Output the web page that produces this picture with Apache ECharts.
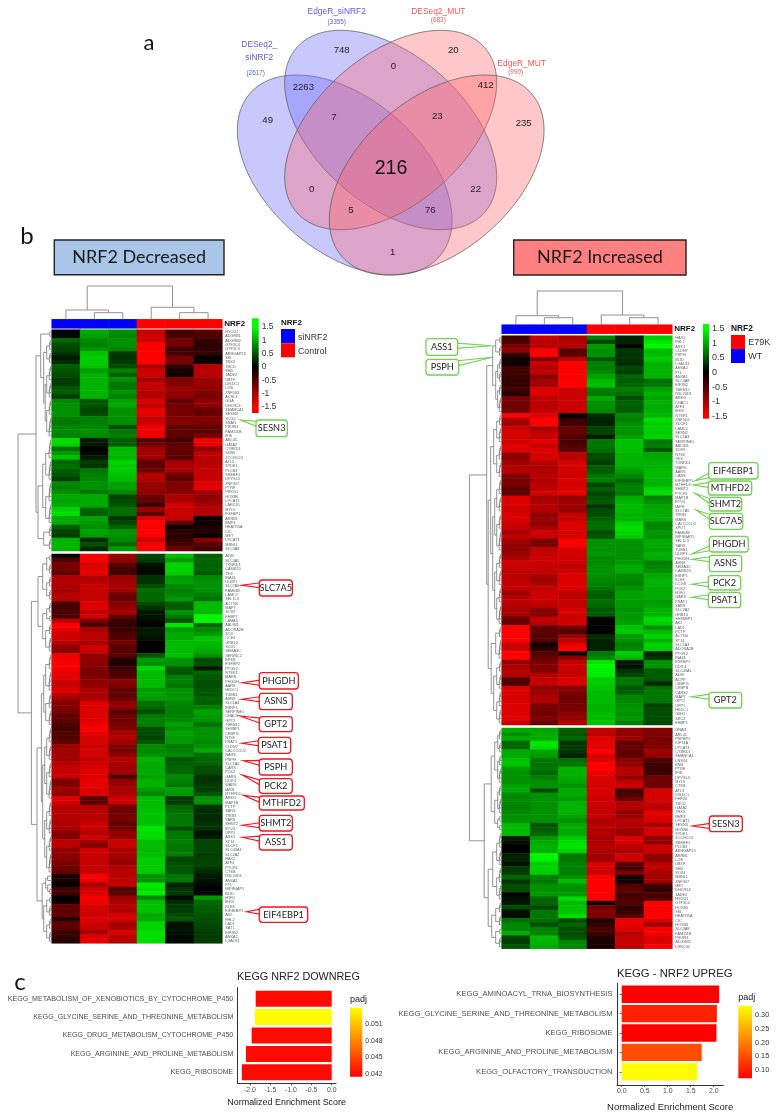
<!DOCTYPE html>
<html><head><meta charset="utf-8">
<script src="https://cdn.jsdelivr.net/npm/echarts@6/dist/echarts.min.js"></script>
<style>html,body{margin:0;padding:0;background:#fff}#c{width:779px;height:1118px}</style>
</head><body><div id="c"></div>
<script>
// ---------- Heatmap gene labels ----------
const leftTopGenes=['HYOU1','ADGRB1','ADGRB2','GTF3C4','GTF3C3','ARHGAP23','SKI','TBX3','TBCD','SHD','JADE2','UBTF','DISDC1','L2IS','ZNF503','ACSL3','GGA','DHCR24','SMARCA1','SESN3','SCG2','SNAI1','PIK3R3','FAM111B','IFI8','ARL4C','GATA2','CYBRD1','SUB3','ZCCHC24','ATL3','SYDE1','PLCB3','SREBF1','DPYSL3','ZNF307','PTRF','PRKG1','HOXB6','LPCAT1','LARC45','MYL9','FGFBP1','ARRB1','BMP4','HEATR5A','CIC','MET','LPCAT3','MBNL1','SLC3A8'];
const leftBottomGenes=['ADM','SLC4A5','TXNRD1','CAMK2D','TES','INADL','ULBP1','SLC7A5','FAM64B','LAMC2','SEL1L3','ACTN4','MAP7','SOX9','EHBP1','LAMA3','ABLIM1','ADORA2B','SCD','CCH1','GRB10','SCD5','SEMA3C','SERINC2','EPS8','FGFBP2','PTGS2','NTSR1','MARS','PHGDH','AARS','HKDC1','TUBB1','ASNS','SLC1A4','ESRP1','SERPINE1','CHAC1','GPT2','TBEN15','SH3BP1','CEBPG','NT5E','PSAT1','CLDN7','CALCOCO2','NARS','PSPH','SLC1A5','CARS','PCK2','GARS','DDIT4','WARS','IARS','MTHFD2','AREG','MAP1B','PCTP','SARS','TRIB3','YARS','SHMT2','ETV4','UPP1','ASS1','ST14','SDCF1','SLC43A1','SLC2A2','HAX1','ATF4','PYCR1','CTSB','RSL24D1','ANXA1','FTL','NIPSNAP1','BLID','H1F0','IER3','KLK8','EIF4EBP1','AK2','FHL2','LAD1','SAT1','EIF2B2','ANXA2','LGALS1'];
const rightTopGenes=['HAX1','FHL2','ASS1','CLDN7','PSPH','BLID','LGALS1','ANXA2','FTL','ANXA1','SLC4A8','EIF2B2','TBEN15','RSL24D1','AREG','CHAC1','ATF4','IER3','NTSR1','ZNF503','SDCF1','LAMC2','SESN2','SLC1A3','SERPINE1','ABLIM1','SOX9','NT5E','TES','TXNRD1','WARS','AARS','CARS','EIF4EBP1','MTHFD2','SHMT2','PYCR1','MAP1B','ETV4','IARS','SLC7A5','TRIB3','MARS','CALCOCO2','XPOT','FAM64B','NIPSNAP1','SEL1L3','SARS','TUBB1','ULBP1','PHGDH','ASNS','SEMA3C','CAMK2D','ESRP1','KLK8','CCGS','PCK2','H1F0','GARS','PSAT1','YARS','SLC2A2','GRB10','SH3KBP1','AK2','LAD1','PCTP','ACTN4','ST14','SLC1A4','ADORA2B','PTGS2','INADL','FGFBP1','DDIT4','SLC43A1','ADM','ACPP','CEBPG','CEBPB','CARS2','MAP7','GPT2','UPP1','HKDC1','G6H1','SRC2','EHBP1'];
const rightBottomGenes=['GNAI1','ARL4C','PSPBP1','KIF13A','LPCAT3','CYBRD1','SMARCA1','LNSG1','BNN','PTRF','IFI8','DPYSL3','MYL9','CTSB','ATL3','DISDC1','PHF20','TBCD','GATA2','TBX3','BMP4','LPCAT1','SESN3','HOXB6','SYDE1','ZCCHC24','SREBF1','PLCB3','ARHGAP23','ARRB1','L2IS','UBTF','SHD','SOX4','MBNL1','ZNF307','MET','DHCR24','JADE2','HYOU1','GTF3C4','HOXB5','SKI','HEATR5A','CIC','HOXB3','SLC3A8','FAM111B','PIK3R3','ADGRB2','LRRC45'];

// ---------- Heatmap values (z-scores) ----------
const leftTopValues=[[-0.05,1,.85,-1.15,-.35,-.5],[.05,.95,.8,-1.2,-.45,-.45],[.6,.8,.85,-1.2,-.65,-.3],[.45,.75,.85,-1.5,-.7,-.25],[.4,.85,.8,-1.5,-.35,-.3],[.3,1.15,.35,-1.5,-.4,-.3],[.15,1.2,.3,-1.5,-.7,0],[.25,1.2,.35,-1.5,-.7,-.1],[.55,1.15,.45,-1,-.3,-1.05],[.5,.9,.75,-1.2,-.15,-1.1],[.45,1.05,.55,-1.2,-.1,-1.1],[.35,1.05,.85,-.95,-.75,-.9],[.35,1.05,.7,-1.15,-.75,-.9],[.5,1.05,.7,-1.15,-.9,-.85],[.55,1.05,.85,-1.05,-.85,-.75],[.35,1.05,.75,-1.05,-.85,-.7],[.8,.5,.95,-1.3,-.55,-.85],[.85,.5,1,-1.1,-.65,-.85],[.85,.4,.85,-1.35,-.7,-.6],[.85,.45,.85,-1.35,-.7,-.6],[.75,.75,.85,-1.15,-.75,-.75],[.7,.75,.85,-1.2,-.8,-.75],[.8,.8,.45,-1.4,-.55,-.55],[.8,.85,.7,-1.4,-.55,-.55],[.75,.8,.75,-1.4,-.55,-.7],[1.3,.15,.55,-.5,-.4,-1.4],[1.25,.15,.55,-.65,-.55,-1.35],[.65,0,1.1,-.95,-.6,-.85],[.9,.05,1.1,-.95,-.55,-1.1],[1.15,.15,1.05,-.95,-.5,-1.1],[.6,.35,1.25,-.55,-.95,-1.05],[.65,.3,1.2,-.55,-1,-1.1],[.55,.7,1.2,-.65,-1,-1.15],[.5,.75,1.15,-1.05,-.65,-1.15],[.35,.8,1.1,-1.05,-.55,-1.15],[.8,.85,.95,-.9,-.75,-1.3],[.75,.85,.95,-.9,-.75,-1.35],[.85,.7,.8,-.85,-.8,-.95],[1,1,.4,-.65,-1,-.85],[.95,1,.45,-.6,-1,-.85],[1,1,.5,-.35,-1.25,-1],[1.25,.6,.65,-.95,-1.15,-1.05],[1.3,.55,.65,-.55,-1.2,-1.05],[1,.95,.3,-1.3,-1.15,0],[1,.9,.4,-1.5,-.65,-.1],[.55,.85,.6,-1.5,-.05,-.15],[.4,.95,.85,-1.5,-.25,-.2],[.35,.9,.85,-1.5,-.25,-.05],[1.05,.25,.8,-1.2,-.3,-.8],[1.05,.45,.6,-1.45,-.4,-.55],[1.05,.25,.9,-1.5,-.6,-.35]];
const leftBottomValues=[[-.05,-1.5,-.9,.4,1.1,.55],[-.45,-1.45,-.85,.35,.9,.6],[-.7,-1.25,-.55,.1,1.25,.55],[-.7,-1.35,-.4,.05,1.25,.6],[-.55,-1.35,-.4,.05,1.2,.5],[-1,-1.05,-.9,.3,.9,.8],[-1.05,-1.05,-.95,.3,.95,.85],[-1,-1.2,-.95,.45,.8,.85],[-.95,-1.15,-.95,.65,.75,.85],[-1.05,-1.15,-.65,.6,.8,.75],[-1.05,-1.15,-.6,.6,.9,.65],[-.45,-1.3,-.8,.45,.55,1.1],[-.4,-1.3,-.85,.3,.55,1.1],[-.45,-1.1,-1,.15,.85,1.1],[-.45,-1.25,-.6,.1,.7,1.45],[-1.1,-.7,-.35,.05,.45,1.45],[-1.5,-.45,-.3,0,1.35,.6],[-1.35,-1,-.35,.15,.9,.8],[-1.2,-1.1,-.45,.15,1,.9],[-1.2,-1.1,-.5,.1,1,1.15],[-1.1,-1,-.7,0,1.1,1.1],[-.85,-1.2,-.55,0,1.1,1.05],[-.8,-1.2,-.5,0,1.1,1],[-1.4,-.85,-.55,.5,1.15,.85],[-1.45,-.85,-.2,.9,.85,.45],[-1.45,-.8,-.2,.85,.85,.45],[-1.45,-.75,-.35,1.25,.55,.15],[-1.35,-.7,-.45,1.1,.5,.6],[-1.35,-.75,-.5,1.1,.75,.5],[-1.2,-.85,-.8,1.1,.75,.45],[-1.15,-.85,-.75,1.1,.7,.45],[-1.3,-1,-.55,.9,.85,.5],[-1.1,-1,-.55,.95,.85,.5],[-.95,-1,-.65,.9,.9,.6],[-.75,-1.3,-.85,.65,.8,.55],[-.75,-1.3,-.85,.6,.75,.75],[-.7,-1.3,-.5,.45,.75,.95],[-.55,-1.3,-.65,.7,.75,.9],[-.55,-1.3,-.65,.75,.8,.85],[-.45,-1.4,-.7,.75,.95,.65],[-.4,-1.45,-.8,.45,.85,.85],[-.45,-1.35,-1,.45,.95,.85],[-.5,-1.25,-1.05,.4,.9,.85],[-.55,-1.25,-.95,.5,.9,.8],[-.9,-1.2,-.75,.8,.7,.85],[-.95,-1.25,-.7,.8,.75,1],[-.95,-1.25,-.85,.85,.8,.65],[-.95,-1.15,-1.05,1.05,.5,.6],[-1.05,-1.2,-1,1,.55,.6],[-1.15,-1.3,-.95,1,.6,.45],[-1.15,-1.3,-.95,1,.6,.45],[-1.15,-1.3,-.45,.95,.8,.3],[-.75,-1.35,-.85,1.05,.75,.3],[-.75,-1.35,-.9,1.05,.7,.35],[-.95,-1.3,-1,.9,.95,.35],[-.85,-1.3,-1,.8,.9,.5],[-1.3,-.55,-1.2,1.1,.35,.85],[-1.25,-.55,-1.2,1.1,.35,.85],[-1.05,-1.05,-.7,1.1,.6,.3],[-1.05,-1.05,-.65,1.15,.65,.25],[-1.05,-1.1,-.7,1.15,.7,.25],[-1.05,-1.05,-.7,1.15,.7,.25],[-1,-1.2,-.6,1.15,.7,.3],[-1,-1.2,-.65,1.35,.45,.3],[-.8,-1.05,-.9,1.3,.7,.1],[-.75,-1.25,-.85,1.3,.7,.15],[-1.1,-.95,-1.2,1.1,.75,.4],[-1.1,-.75,-1.2,1.1,.7,.4],[-.85,-1.2,-1,1.1,.7,.4],[-.85,-1.2,-1,1.1,.75,.35],[-.8,-1.15,-.95,1.2,.4,.4],[-.7,-1.15,-.85,1.2,.45,.4],[-.65,-1.15,-1.05,1.2,.5,.35],[-.6,-1.15,-1.1,1.2,.5,.25],[-.15,-1.45,-1.1,.85,.7,.15],[-.15,-1.4,-1.1,.85,.7,.1],[0,-1,-1.15,1.4,.2,.05],[-.4,-1.2,-.5,1.3,.3,0],[-.4,-1.25,-.5,1.4,.35,0],[0,-1.45,-.9,.8,.05,.9],[-.1,-1.4,-1,1.1,.25,.6],[-.55,-1.25,-1.1,1.15,.35,.55],[-.55,-1.25,-1,1.15,.35,.55],[-.6,-1.2,-1.25,1,.45,.5],[-.2,-1.3,-1.25,1,.5,.45],[-.55,-1.2,-.95,1.25,.1,.45],[-.55,-1.15,-1,1.25,.1,.4],[-.35,-.95,-1.25,1.3,.1,.35],[-.3,-1.3,-1.1,1.3,.05,.35],[-.2,-1.35,-1.05,1.3,.05,.35]];
const rightTopValues=[[-.4,-1.15,-1,.75,.2,1.2],[-.45,-1.1,-1.05,.4,.2,1.35],[-.7,-1.05,-1.05,.9,0,1.45],[-.85,-1.5,-.5,.85,.35,1.1],[-.3,-1.5,-.55,.85,.3,1.1],[-.1,-.75,-1.1,.5,.3,1.2],[-.05,-1.2,-1.5,.75,.25,1.05],[-.4,-1.05,-1.5,.75,.45,1.05],[-.35,-1.15,-1.5,.8,.35,1.05],[-.35,-.8,-1.5,.95,.6,1.05],[-.3,-.95,-1.5,1.1,.55,.65],[-.3,-.95,-1.5,1.15,.6,.7],[-.4,-1.3,-1.2,.75,.75,.95],[-.2,-1.3,-1.2,.7,.65,1.05],[-.7,-1.1,-1.2,1,.45,.95],[-.7,-1.1,-1.2,.85,.6,1.05],[-.65,-1.1,-1.2,.85,.55,1],[-.7,-1.15,-1.2,.8,.55,1.05],[-1.5,-1.3,0,.25,.8,1.05],[-1,-1.5,-.35,.2,.75,1.3],[-.95,-1.5,-.4,.2,.85,1.2],[-1.2,-.95,-.6,.4,.9,1.25],[-1.25,-1.15,-.6,.4,.85,1.2],[-1.25,-1.15,-.5,.15,.95,1.25],[-1.2,-1.35,-.4,.7,1.15,.7],[-1.35,-1.15,-.5,.7,1.15,.75],[-1.3,-1.3,-.55,.65,1.1,.5],[-.85,-1.25,-1.1,.45,1.05,1],[-.85,-1.25,-1.1,.45,1.05,1],[-.95,-1.05,-1.25,.35,1.05,1.05],[-1.05,-1,-1.25,.55,1,1.05],[-1.05,-1.05,-1.25,.55,.9,1.1],[-.75,-1.1,-1.2,.7,.8,1.1],[-.7,-1,-1.3,.75,.6,1.05],[-.7,-1.1,-1.2,.4,.75,1.05],[-.55,-1.1,-1.3,.55,.75,1.25],[-.5,-1.25,-1.35,.4,.7,1.3],[-1.3,-.95,-.85,.5,1,.75],[-1.3,-1,-.95,.55,1.05,.85],[-1.25,-1.05,-.9,.3,1.1,.95],[-1.2,-1.05,-.9,.45,1.1,1],[-1.3,-.85,-1.15,.45,1.05,1],[-1.25,-.9,-1.15,.55,1.05,1],[-1.2,-.85,-1.3,.65,1.25,.8],[-1.15,-1,-1.3,.65,1.3,.8],[-.95,-1.2,-1.25,.45,1.25,.9],[-1.15,-1.15,-1.25,.5,1.2,.85],[-.95,-.7,-1.5,.85,.85,1],[-.85,-.7,-1.45,.85,.85,1],[-.85,-1.15,-1.25,.85,.85,.95],[-.9,-1.15,-1.25,.9,.85,1.05],[-1,-1.2,-1.2,.8,.85,1],[-1.2,-1.2,-1.2,.8,.9,.75],[-1.2,-1.15,-1.1,.85,1,.8],[-1.1,-1.15,-1.2,.85,1,.85],[-1.1,-1,-1.3,.85,.8,1],[-1.1,-.95,-1.3,.8,.8,1.05],[-1.15,-1,-1.3,.75,.75,1.05],[-1.15,-1.15,-1.3,.7,.85,1],[-.9,-1.2,-1.1,.55,.95,1],[-1.05,-1.2,-1.1,.55,.95,1],[-1.1,-1.15,-1.15,.65,.9,.9],[-1.05,-1.1,-1.15,.6,.9,.95],[-1,-.8,-1.25,.5,.85,1.05],[-1,-.75,-1.25,.55,.9,1.05],[-.6,-1.15,-1.2,.05,.9,1.3],[-.6,-1.1,-1.25,0,.95,1.25],[-1.5,-.55,-.7,0,1.15,.85],[-1.5,-.55,-.45,0,1.2,1.1],[-1.5,-.5,-.9,.25,.9,1.25],[-1.45,-.5,-1.1,.2,.85,1.05],[-1.2,-.1,-1.35,.2,.75,1.25],[-1.2,-.25,-1.5,.2,.8,1.2],[-1.5,-.5,-.1,.7,1.2,.2],[-1.5,-.6,-.85,.8,1.1,.3],[-.85,-.7,-1.15,1.35,.15,.85],[-1,-.75,-1.2,1.45,.1,.85],[-1.05,-.75,-1.15,1.4,.3,.55],[-1.05,-1.05,-1.15,1.4,.4,.55],[-.5,-1.15,-1.3,1.2,.7,.5],[-.45,-1.15,-1.3,1.2,.7,.25],[-1.3,-.85,-.75,1.15,.5,.65],[-1.3,-.9,-.75,1.1,.55,.7],[-1.25,-1,-.65,1.1,.8,.7],[-1.25,-1.05,-.65,1.1,.8,.7],[-1.3,-.7,-.7,1.05,.85,.4],[-1.3,-.7,-.7,1.05,.9,.45],[-1.3,-.65,-.85,1.1,.85,.45],[-1.35,-.75,-.85,1.1,.9,.45],[-1.2,-.6,-1.05,1.15,.75,.45]];
const rightBottomValues=[[1,.95,.55,-1.15,-.85,-.75],[.85,1,.5,-1.1,-.85,-.75],[1,1,.6,-1.3,-.95,-.7],[.6,1.35,.3,-1.35,-.55,-.75],[.6,1.3,.35,-1.3,-.6,-.75],[1,.95,.3,-1.5,-.55,-.95],[1,.9,.2,-1.25,-.55,-.85],[1.15,.7,.65,-1.3,-.85,-.45],[1.15,.65,.7,-1.5,-.85,-.35],[.9,.7,1.05,-1.5,-1.05,-.35],[.85,.6,1.05,-1.35,-1.1,-.35],[.85,.75,1,-1.3,-.85,-.65],[.85,.85,.95,-1.25,-1.15,-.65],[.95,.85,.85,-1.25,-1.2,-.65],[1,.45,1,-1.25,-.4,-1.25],[.8,.85,1,-1.25,-.45,-1.25],[.8,.85,.9,-1.2,-.65,-1.25],[.8,.85,1.05,-1.2,-1.05,-1.15],[.75,.85,1.05,-1.15,-1.05,-1.1],[.8,.85,1.05,-1.15,-.85,-1.3],[.85,.85,.95,-1.15,-.9,-1.3],[.85,.85,.85,-1,-1.1,-1.25],[1.1,.5,1,-1.1,-1.05,-.95],[1.1,.55,1,-1.05,-.95,-1.25],[1.1,.6,1,-1.05,-.9,-1.25],[.15,.9,1.2,-1,-1.3,-.85],[.1,1,1.3,-1,-1.25,-.85],[0,1.05,1.35,-1.1,-1.1,-1.2],[0,1.05,1.25,-1,-1,-1.2],[.2,1.45,.7,-.95,-1.2,-.85],[.2,1.4,.7,-.95,-1.2,-.85],[.1,1.2,.75,-1.25,-.5,-1.1],[.35,1.25,.75,-1.25,-.4,-1.1],[.35,1.2,.75,-1.2,-.75,-1],[.6,.75,.85,-1.5,-.1,-.95],[.3,.7,1.1,-1.5,-.1,-.95],[.45,.85,.85,-1.5,-.5,-.35],[.45,.85,.85,-1.5,-.55,-.3],[0,.9,.9,-1.5,-.4,-.45],[.1,.6,1.3,-1.5,-.45,-.45],[.15,.6,1.1,-.1,-.5,-1.5],[.45,.4,1.15,-.7,-.25,-1.5],[.1,.7,1.15,-.75,-.35,-1.5],[.05,.7,1.3,-.75,-.5,-1.5],[.65,.65,.45,-.2,-1.4,-1.3],[.8,.45,.6,-.3,-1.35,-.9],[.8,.75,.45,-.45,-1.3,-1.45],[1,.75,.45,-.35,-1.05,-1.45],[.4,1.1,.5,-.2,-1.15,-1.3],[.35,1.05,.8,-.15,-1.15,-1.3],[.5,1,.8,-.15,-1.1,-1.45]];

// ---------- Dendrograms: [height, childA, childB]; a number child = that many neighbouring rows ----------
const leftRowTree=[33.7,[15.7,[11,2,[8,[5,3,3],[6.5,[5,4,4],[5,4,5]]]],[13.7,[9,[6,5,5],[6,5,5]],[8,3,3]]],[20.3,[13.7,[9,[5,2,3],[5,3,3]],[9,[5,3,2],[6,3,4]]],[14.7,[10.3,[8,[6,4,5],[6,4,4]],[9,[7,[5,4,4],[5,4,5]],[7,[5,4,4],[5,4,5]]]],[9.5,[6,[4,1,1],[4,1,2]],[8,[5,2,3],[5,3,3]]]]]];
const rightRowTree=[32.3,[15,[9,[6,2,3],[6,[4,3,3],[4,3,4]]],[13.5,[11,[8,[5,3,4],[5,4,4]],[9,[7,[5,4,4],[5,4,5]],[7,[5,4,4],[5,4,5]]]],[10.5,[6,3,5],[8,[5,3,4],[5,4,4]]]]],[17.5,[10.5,[7,[4,3,3],[4,3,4]],[7,[4,3,4],[4,2,2]]],[13.5,[9,[5,4,4],[5,4,4]],[10,[6,3,3],[6,2,3]]]]];
const leftColMerges=[[1.5,0,2.5,0,20],[.5,0,2,20,28],[4.5,0,5.5,0,20],[3.5,0,5,20,36],[1.25,28,4.25,36,100]];
const rightColMerges=[[1.5,0,2.5,0,21],[.5,0,2,21,27],[4.5,0,5.5,0,21],[3.5,0,5,21,29],[1.25,27,4.25,29,101]];

// ---------- Colour bars and KEGG bars ----------
const zTicks=[-1.5,-1,-.5,0,.5,1,1.5];
const downTerms=['KEGG_METABOLISM_OF_XENOBIOTICS_BY_CYTOCHROME_P450','KEGG_GLYCINE_SERINE_AND_THREONINE_METABOLISM','KEGG_DRUG_METABOLISM_CYTOCHROME_P450','KEGG_ARGININE_AND_PROLINE_METABOLISM','KEGG_RIBOSOME'];
const downNES=[-1.86,-1.88,-1.96,-2.1,-2.2];
const downPadj=[.042,.0538,.042,.042,.042];
const downTicks=[-2,-1.5,-1,-.5,0];
const downPadjTicks=[.042,.045,.048,.051];
const upTerms=['KEGG_AMINOACYL_TRNA_BIOSYNTHESIS','KEGG_GLYCINE_SERINE_AND_THREONINE_METABOLISM','KEGG_RIBOSOME','KEGG_ARGININE_AND_PROLINE_METABOLISM','KEGG_OLFACTORY_TRANSDUCTION'];
const upNES=[2.12,2.07,2.06,1.74,1.64];
const upPadj=[.07,.105,.07,.15,.332];
const upTicks=[0,.5,1,1.5,2];
const upPadjTicks=[.1,.15,.2,.25,.3];

// ---------- Venn ----------
const BLUE_T='#5a5adf',RED_T='#f25555';
const vennCounts=[['748',341.7,50.7],['0',393.3,66.7],['20',453.3,50],['2263',303.3,87],['412',485.7,85.7],['49',267.7,120.7],['7',334,117.3],['23',437.3,116.7],['235',523.7,123.3],['0',311.7,189],['22',475.7,189],['5',351,210.7],['76',430.3,210.7],['1',392.7,252.3]];
const vennSets=[['EdgeR_siNRF2',336.7,12,8.4,BLUE_T],['(3355)',336.7,22,6.4,BLUE_T],['DESeq2_',259.3,45,8.4,BLUE_T],['siNRF2',259.3,57.7,8.4,BLUE_T],['(2617)',255.7,73.3,6.4,BLUE_T],['DESeq2_MUT',438.3,12,8.4,RED_T],['(683)',438.3,20.7,6.4,RED_T],['EdgeR_MUT',521.7,63.3,8.4,RED_T],['(990)',515.7,72.7,6.4,RED_T]];
// ---------- Callouts: text, box x, y, w, h, tip x, tip y ----------
const leftRedCalls=[['SLC7A5',259.3,580,33,16,241.7,585.3],['PHGDH',259.3,672.7,39,16.3,242.3,682.7],['ASNS',259.3,693.3,33,16.4,241.7,699.3],['GPT2',259.3,716.7,33,15,240,716],['PSAT1',258.3,737.3,32.4,16,241.7,743.3],['PSPH',259.3,759,33,16,243.3,760.7],['PCK2',259.3,778.7,33,14.6,242.3,775],['MTHFD2',259.3,796,45,14,243.3,795.3],['SHMT2',259.3,815.3,33,15.7,242.3,825.3],['ASS1',259.3,834.7,33,15.3,242.3,837.3],['EIF4EBP1',259.3,907,48.4,15.3,246.7,911.7]];
const leftGreenCalls=[['SESN3',256,420,31.3,16.7,240.7,420]];
const rightGreenCalls=[['ASS1',426,338.7,31.7,16.6,491.7,345.7],['PSPH',426,359.3,32.7,15.7,492.3,357.3],['EIF4EBP1',708.7,462.7,49.3,16.3,695,480.7],['MTHFD2',708.3,481,43.4,14,693.3,485],['SHMT2',709.3,497.3,32.4,13.7,695,493.3],['SLC7A5',709.3,513.3,33.4,16,696,510],['PHGDH',709.3,536.3,39,15.7,691.7,554],['ASNS',709.3,555.3,32.4,16.4,691.7,559.3],['PCK2',708.3,575.7,32.4,14.3,691.7,584.3],['PSAT1',708.3,592.3,32.4,15.4,691.7,597.3],['GPT2',709,692.3,32.7,15.7,691.7,696.7]];
const rightRedCalls=[['SESN3',709.3,816,33,15.7,692.3,826]];

// ---------- Build ----------
const RED='#f0141c', GREEN='#6fd24f', TXT='#222';
const SANS='"Liberation Sans",Arial,sans-serif';
const chart=echarts.init(document.getElementById('c'),null,{renderer:'canvas',width:779,height:1118});
const grid=[],xAxis=[],yAxis=[],series=[],visualMap=[];
function addGrid(l,t,r,b,extra){grid.push(Object.assign({left:l,top:t,width:r-l,height:b-t,containLabel:false},extra||{}));return grid.length-1;}
const noAxis={axisLine:{show:false},axisTick:{show:false},axisLabel:{show:false},splitLine:{show:false}};

function heat(l,r,t,b,genes,vals){
  const g=addGrid(l,t,r,b);
  const cols=['0','1','2','3','4','5'];
  xAxis.push(Object.assign({gridIndex:g,type:'category',data:cols},noAxis));
  yAxis.push({gridIndex:g,type:'category',data:genes,inverse:true,position:'right',axisLine:{show:false},axisTick:{show:false},splitLine:{show:false},
    axisLabel:{show:true,interval:0,fontSize:3.8,color:'#5a6068',margin:3,fontFamily:SANS}});
  const data=[];
  vals.forEach((row,y)=>row.forEach((v,x)=>data.push([x,y,v])));
  series.push({type:'heatmap',xAxisIndex:xAxis.length-1,yAxisIndex:yAxis.length-1,data,progressive:0,animation:false,itemStyle:{borderWidth:0}});
}
heat(51.7,222.3,329.7,551,leftTopGenes,leftTopValues);
heat(51.7,222.3,554,943.3,leftBottomGenes,leftBottomValues);
heat(501.7,672.3,335.7,725,rightTopGenes,rightTopValues);
heat(501.7,672.3,728,948.7,rightBottomGenes,rightBottomValues);
visualMap.push({type:'continuous',show:false,seriesIndex:[0,1,2,3],dimension:2,min:-1.5,max:1.5,inRange:{color:['#ff0000','#000000','#00ff00']}});

function annot(l,r,t,b,firstColor,secondColor){
  const g=addGrid(l,t,r,b);
  xAxis.push(Object.assign({gridIndex:g,type:'category',data:['0','1','2','3','4','5']},noAxis));
  yAxis.push({gridIndex:g,type:'category',data:['NRF2'],position:'right',axisLine:{show:false},axisTick:{show:false},axisLabel:{interval:0,fontSize:8,fontWeight:'bold',color:'#111',margin:2,fontFamily:SANS}});
  const data=[0,1,2,3,4,5].map(x=>({value:[x,0,1],itemStyle:{color:x<3?firstColor:secondColor}}));
  series.push({type:'heatmap',xAxisIndex:xAxis.length-1,yAxisIndex:yAxis.length-1,data,animation:false});
}
annot(51.7,222.3,319.3,328.3,'#0000ff','#ff0000');
annot(501.7,672.3,324.7,333.7,'#0000ff','#ff0000');

function segSeries(ax,segs){
  series.push({type:'custom',xAxisIndex:ax,yAxisIndex:ax,data:segs,encode:{x:[0,2],y:[1,3]},animation:false,silent:true,clip:false,
    renderItem:(p,api)=>{const a=api.coord([api.value(0),api.value(1)]),b=api.coord([api.value(2),api.value(3)]);
      return {type:'line',shape:{x1:a[0],y1:a[1],x2:b[0],y2:b[1]},style:{stroke:'#808080',lineWidth:.85,fill:null}};}});
}
function colDendro(l,r,t,b,merges){
  const g=addGrid(l,t,r,b);
  xAxis.push(Object.assign({gridIndex:g,type:'value',min:0,max:6},noAxis));
  const top=merges[merges.length-1][4];
  yAxis.push(Object.assign({gridIndex:g,type:'value',min:0,max:top},noAxis));
  const segs=[];
  merges.forEach(m=>{segs.push([m[0],m[1],m[0],m[4]],[m[2],m[3],m[2],m[4]],[m[0],m[4],m[2],m[4]]);});
  segSeries(xAxis.length-1,segs);
}
colDendro(51.7,222.3,286,319.3,leftColMerges);
colDendro(501.7,672.3,291,324.7,rightColMerges);

function rowDendro(l,r,t,b,tree,topN,total){
  const g=addGrid(l,t,r,b);
  xAxis.push(Object.assign({gridIndex:g,type:'value',min:0,max:r-l,inverse:true},noAxis));
  yAxis.push(Object.assign({gridIndex:g,type:'value',min:0,max:total,inverse:true},noAxis));
  const segs=[]; let row=0;
  const rowY=i=>i+.5+(i>=topN?total-Math.floor(total):0);
  function walk(n){
    if(typeof n==='number'){
      let y=rowY(row),h=0; row++;
      for(let i=1;i<n;i++){
        const ry=rowY(row); row++;
        const ch=.8+2.2*i/n;
        segs.push([h,y,ch,y],[0,ry,ch,ry],[ch,y,ch,ry]);
        y=(y+ry)/2; h=ch;
      }
      return {y,h};
    }
    const a=walk(n[1]),b=walk(n[2]);
    segs.push([a.h,a.y,n[0],a.y],[b.h,b.y,n[0],b.y],[n[0],a.y,n[0],b.y]);
    return {y:(a.y+b.y)/2,h:n[0]};
  }
  walk(tree);
  segSeries(xAxis.length-1,segs);
}
rowDendro(18,51.7,329.7,943.3,leftRowTree,51,141.69);
rowDendro(469.4,501.7,335.7,948.7,rightRowTree,90,141.69);

function colorBar(l,r,t,b,min,max,stops,ticks,fmt,fs,margin,labelColor){
  const g=addGrid(l,t,r,b,{show:true,borderWidth:0,backgroundColor:new echarts.graphic.LinearGradient(0,0,0,1,stops)});
  xAxis.push(Object.assign({gridIndex:g,type:'value',min:0,max:1},noAxis));
  yAxis.push({gridIndex:g,type:'value',position:'right',min,max,axisLine:{show:false},axisTick:{show:false},splitLine:{show:false},
    axisLabel:{show:true,customValues:ticks,formatter:fmt,fontSize:fs,color:labelColor,margin,fontFamily:SANS}});
  return g;
}
function zStops(min,max){const f=v=>(max-v)/(max-min);return [{offset:0,color:'#00ff00'},{offset:f(1.5),color:'#00ff00'},{offset:f(0),color:'#000'},{offset:f(-1.5),color:'#ff0000'},{offset:1,color:'#ff0000'}];}
colorBar(252,258.7,318.3,413,-1.72,1.82,zStops(-1.72,1.82),zTicks,v=>String(v),8.5,3,'#333');
colorBar(703,709,324,418.7,-1.57,1.65,zStops(-1.57,1.65),zTicks,v=>String(v),9,3,'#333');
const padjStops=[{offset:0,color:'#ffff00'},{offset:1,color:'#ff0000'}];
colorBar(350,362.3,1007.7,1076.7,.0415,.054,padjStops,downPadjTicks,v=>v.toFixed(3),6.9,3,'#333');
colorBar(738.3,752,1005.7,1078.3,.07,.334,padjStops,upPadjTicks,v=>v.toFixed(2),7.3,3,'#333');

function keggBars(o){
  // frame with the axes
  const f=addGrid(o.l,o.ft,o.r,o.fb);
  xAxis.push({gridIndex:f,type:'value',min:o.min,max:o.max,name:'Normalized Enrichment Score',nameLocation:'middle',nameGap:o.nameGap,nameTextStyle:{fontSize:o.nameSize,color:TXT,fontFamily:SANS},
    axisLine:{show:true,onZero:false,lineStyle:{color:'#333',width:1}},axisTick:{show:true,customValues:o.ticks,length:2,lineStyle:{color:'#333',width:.8}},splitLine:{show:false},
    axisLabel:{show:true,customValues:o.ticks,formatter:v=>v.toFixed(1),fontSize:6.9,color:'#4d4d4d',margin:3,fontFamily:SANS}});
  yAxis.push({gridIndex:f,type:'value',min:0,max:1,axisLine:{show:true,onZero:false,lineStyle:{color:'#333',width:1}},axisTick:{show:false},axisLabel:{show:false},splitLine:{show:false}});
  // bars
  const g=addGrid(o.l,o.t,o.r,o.b);
  xAxis.push(Object.assign({gridIndex:g,type:'value',min:o.min,max:o.max},noAxis));
  yAxis.push({gridIndex:g,type:'category',inverse:true,data:o.terms,axisLine:{show:false},axisTick:{show:true,length:2,alignWithLabel:true,lineStyle:{color:'#333',width:.8}},splitLine:{show:false},
    axisLabel:{show:true,interval:0,fontSize:o.labelSize,color:'#4d4d4d',margin:o.labelMargin,fontFamily:SANS}});
  series.push({type:'bar',xAxisIndex:xAxis.length-1,yAxisIndex:yAxis.length-1,barWidth:o.barWidth,animation:false,
    encode:{x:0,y:1},data:o.terms.map((t,i)=>[o.vals[i],t,o.padj[i]])});
  visualMap.push({type:'continuous',show:false,seriesIndex:series.length-1,dimension:2,min:o.pmin,max:o.pmax,inRange:{color:['#ff0000','#ffff00']}});
}
keggBars({l:237.3,r:336,ft:987.6,fb:1083.3,t:989.5,b:1081.5,min:-2.311,max:.105,ticks:downTicks,terms:downTerms,vals:downNES,padj:downPadj,nameGap:15,nameSize:8.95,labelSize:7.1,labelMargin:4,barWidth:16,pmin:.0415,pmax:.054});
keggBars({l:617,r:723.3,ft:983,fb:1085,t:984.5,b:1081.5,min:-.102,max:2.209,ticks:upTicks,terms:upTerms,vals:upNES,padj:upPadj,nameGap:17,nameSize:9.5,labelSize:7.6,labelMargin:4.5,barWidth:17.4,pmin:.07,pmax:.334});

// ---------- graphics ----------
const gfx=[];
function t(text,x,y,size,fill,opt){gfx.push({type:'text',silent:true,z:20,style:{text,x,y,fill:fill||TXT,font:(opt&&opt.weight?opt.weight+' ':'')+size+'px '+((opt&&opt.family)||SANS),textAlign:(opt&&opt.align)||'center',textVerticalAlign:'middle'}});}
function ell(cx,cy,a,b,deg,fill){gfx.push({type:'ellipse',silent:true,z:5,x:cx,y:cy,rotation:-deg*Math.PI/180,shape:{cx:0,cy:0,rx:a,ry:b},style:{fill,stroke:'rgba(90,90,90,.75)',lineWidth:.9}});}
const VB='rgba(110,110,250,.38)',VP='rgba(252,100,105,.36)';
ell(344.7,175,125,76.8,40.5,VB);
ell(390.7,130,125,74.5,41.3,VB);
ell(390.7,130,125,74.5,-41.3,VP);
ell(436.7,175,125,76.8,-40.5,VP);
vennCounts.forEach(c=>t(c[0],c[1],c[2],9.6,TXT));
t('216',391,168.3,19.6,'#111');
vennSets.forEach(s=>t(s[0],s[1],s[2],s[3],s[4]));
t('a',149,43,22,'#111',{family:'Lato'}); t('b',27,236,24,'#111',{family:'Lato'}); t('c',20,982.5,24,'#111',{family:'Lato'});

function box(x,y,w,h,fill,text,fs){
  gfx.push({type:'rect',silent:true,z:6,shape:{x,y,width:w,height:h},style:{fill,stroke:'#222',lineWidth:1.4}});
  t(text,x+w/2,y+h/2,fs,'#1a1a1a',{family:'Lato'});
}
box(54.3,240,169.7,34.7,'#a9c5e8','NRF2 Decreased',18);
box(513.7,240,172.3,35,'#ff8080','NRF2 Increased',18);

function swatch(x,y,w,h,c){gfx.push({type:'rect',silent:true,z:6,shape:{x,y,width:w,height:h},style:{fill:c}});}
t('NRF2',281,322.7,8,'#111',{weight:'bold',align:'left'});
swatch(281,329,14,14.3,'#0000ff'); swatch(281,343.3,14,14,'#ff0000');
t('siNRF2',298,337.3,8.8,'#333',{align:'left'}); t('Control',298,351.7,8.8,'#333',{align:'left'});
t('NRF2',731,328.3,8.4,'#111',{weight:'bold',align:'left'});
swatch(731,335,14,14,'#ff0000'); swatch(731,349,14,14,'#0000ff');
t('E79K',748.3,342.7,9,'#333',{align:'left'}); t('WT',748.3,357,9,'#333',{align:'left'});

t('padj',350,1000,9,TXT,{align:'left'});
t('padj',738.3,997.3,9,TXT,{align:'left'});
t('KEGG NRF2 DOWNREG',237,977,10.8,TXT,{align:'left'});
t('KEGG - NRF2 UPREG',617,974,11.3,TXT,{align:'left'});

function call(c,color){
  const [text,x,y,w,h,tx,ty]=c;
  const toLeft=tx<x;
  const bx=toLeft?x+1:x+w-1;
  const cy=Math.max(y+4,Math.min(y+h-4,ty));
  gfx.push({type:'polygon',silent:true,z:7,shape:{points:[[bx,cy-2.6],[tx,ty],[bx,cy+2.6]]},style:{fill:'#fff',stroke:color,lineWidth:1.1,lineJoin:'miter'}});
  gfx.push({type:'rect',silent:true,z:8,shape:{x,y,width:w,height:h,r:3},style:{fill:'#fff',stroke:color,lineWidth:1.3}});
  t(text,x+w/2,y+h/2,9.2,'#222',{family:'Lato'});
}
leftRedCalls.forEach(c=>call(c,RED));
leftGreenCalls.forEach(c=>call(c,GREEN));
rightGreenCalls.forEach(c=>call(c,GREEN));
rightRedCalls.forEach(c=>call(c,RED));

chart.setOption({animation:false,backgroundColor:'#fff',grid,xAxis,yAxis,series,visualMap,graphic:{elements:gfx}});
</script></body></html>
